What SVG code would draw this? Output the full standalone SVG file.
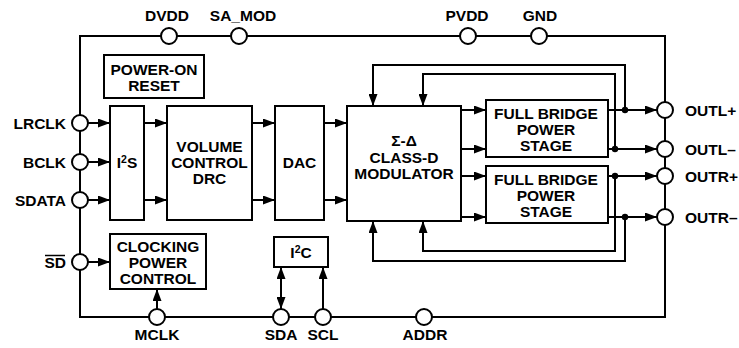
<svg xmlns="http://www.w3.org/2000/svg" width="739" height="348" viewBox="0 0 739 348">
<style>
.b{fill:#fff;stroke:#000;stroke-width:2}
.w{fill:none;stroke:#000;stroke-width:2}
.pin{fill:#fff;stroke:#000;stroke-width:2}
.t{font-family:"Liberation Sans",Arial,sans-serif;font-weight:bold;font-size:15.5px;fill:#000}
.c{text-anchor:middle}
.e{text-anchor:end}
.a{marker-end:url(#ah)}
.sup{font-size:10.5px}
</style>
<defs>
<marker id="ah" markerUnits="userSpaceOnUse" markerWidth="13" markerHeight="9" refX="12" refY="4.5" orient="auto-start-reverse"><path d="M0,0 L12,4.5 L0,9 z" fill="#000"/></marker>
</defs>
<rect width="739" height="348" fill="#fff"/>
<g id="frame"><rect x="80" y="36" width="585" height="281" class="w"/></g>
<g id="connectors">
<line x1="88" y1="123" x2="110" y2="123" class="w a"/>
<line x1="88" y1="162" x2="110" y2="162" class="w a"/>
<line x1="88" y1="200" x2="110" y2="200" class="w a"/>
<line x1="88" y1="262" x2="110" y2="262" class="w a"/>
<line x1="144" y1="123" x2="167" y2="123" class="w a"/>
<line x1="144" y1="200" x2="167" y2="200" class="w a"/>
<line x1="252" y1="123" x2="275" y2="123" class="w a"/>
<line x1="252" y1="200" x2="275" y2="200" class="w a"/>
<line x1="324" y1="123" x2="347" y2="123" class="w a"/>
<line x1="324" y1="200" x2="347" y2="200" class="w a"/>
<line x1="461" y1="110" x2="486" y2="110" class="w a"/>
<line x1="461" y1="149" x2="486" y2="149" class="w a"/>
<line x1="461" y1="176" x2="486" y2="176" class="w a"/>
<line x1="461" y1="217" x2="486" y2="217" class="w a"/>
<line x1="608" y1="110" x2="657" y2="110" class="w a"/>
<line x1="608" y1="149" x2="657" y2="149" class="w a"/>
<line x1="608" y1="176" x2="657" y2="176" class="w a"/>
<line x1="608" y1="217" x2="657" y2="217" class="w a"/>
<polyline points="625,110 625,65 373,65 373,106" class="w a"/>
<polyline points="615,149 615,74 423,74 423,106" class="w a"/>
<polyline points="615,176 615,251 423,251 423,221" class="w a"/>
<polyline points="625,217 625,261 373,261 373,221" class="w a"/>
<circle cx="625" cy="110" r="3.2"/>
<circle cx="615" cy="149" r="3.2"/>
<circle cx="615" cy="176" r="3.2"/>
<circle cx="625" cy="217" r="3.2"/>
<line x1="157" y1="309" x2="157" y2="289" class="w a"/>
<line x1="281" y1="309" x2="281" y2="267" class="w a" marker-start="url(#ah)"/>
<line x1="323" y1="309" x2="323" y2="267" class="w a"/>
</g>
<g id="pins">
<circle cx="169" cy="36" r="8" class="pin"/>
<circle cx="239" cy="36" r="8" class="pin"/>
<circle cx="468" cy="36" r="8" class="pin"/>
<circle cx="539" cy="36" r="8" class="pin"/>
<circle cx="80" cy="123" r="8" class="pin"/>
<circle cx="80" cy="162" r="8" class="pin"/>
<circle cx="80" cy="200" r="8" class="pin"/>
<circle cx="80" cy="262" r="8" class="pin"/>
<circle cx="665" cy="110" r="8" class="pin"/>
<circle cx="665" cy="149" r="8" class="pin"/>
<circle cx="665" cy="176" r="8" class="pin"/>
<circle cx="665" cy="217" r="8" class="pin"/>
<circle cx="157" cy="317" r="8" class="pin"/>
<circle cx="281" cy="317" r="8" class="pin"/>
<circle cx="323" cy="317" r="8" class="pin"/>
<circle cx="424" cy="317" r="8" class="pin"/>
<text x="167" y="21" class="t c">DVDD</text>
<text x="243" y="21" class="t c">SA_MOD</text>
<text x="467" y="21" class="t c">PVDD</text>
<text x="540" y="21" class="t c">GND</text>
<text x="66" y="128.5" class="t e">LRCLK</text>
<text x="66" y="167.5" class="t e">BCLK</text>
<text x="66" y="205.5" class="t e">SDATA</text>
<text x="66" y="267.5" class="t e">SD</text>
<line x1="45" y1="255.5" x2="65" y2="255.5" stroke="#000" stroke-width="1.5"/>
<text x="685" y="115.5" class="t">OUTL+</text>
<text x="685" y="154.5" class="t">OUTL–</text>
<text x="685" y="181.5" class="t">OUTR+</text>
<text x="685" y="222.5" class="t">OUTR–</text>
<text x="157" y="340" class="t c">MCLK</text>
<text x="281" y="340" class="t c">SDA</text>
<text x="323" y="340" class="t c">SCL</text>
<text x="425" y="340" class="t c">ADDR</text>
</g>
<g id="por"><rect x="104" y="55" width="100" height="43" class="b"/>
<text x="154" y="74.5" class="t c">POWER-ON</text><text x="154" y="90.5" class="t c">RESET</text></g>
<g id="i2s"><rect x="110" y="106" width="34" height="114" class="b"/>
<text x="127" y="167.5" class="t c">I<tspan class="sup" dy="-5">2</tspan><tspan dy="5">S</tspan></text></g>
<g id="volume"><rect x="167" y="106" width="85" height="114" class="b"/>
<text x="209.5" y="151.5" class="t c">VOLUME</text><text x="209.5" y="167.5" class="t c">CONTROL</text><text x="209.5" y="183.5" class="t c">DRC</text></g>
<g id="dac"><rect x="275" y="106" width="49" height="114" class="b"/>
<text x="299.5" y="167.5" class="t c">DAC</text></g>
<g id="modulator"><rect x="347" y="106" width="114" height="115" class="b"/>
<text x="404" y="146" class="t c">Σ-Δ</text><text x="404" y="162.5" class="t c">CLASS-D</text><text x="404" y="178.5" class="t c">MODULATOR</text></g>
<g id="fb1"><rect x="486" y="100" width="122" height="57" class="b"/>
<text x="546" y="119" class="t c">FULL BRIDGE</text><text x="546" y="135" class="t c">POWER</text><text x="546" y="151" class="t c">STAGE</text></g>
<g id="fb2"><rect x="486" y="166" width="122" height="57" class="b"/>
<text x="546" y="185" class="t c">FULL BRIDGE</text><text x="546" y="201" class="t c">POWER</text><text x="546" y="217" class="t c">STAGE</text></g>
<g id="clocking"><rect x="110" y="234" width="96" height="55" class="b"/>
<text x="158" y="252" class="t c">CLOCKING</text><text x="158" y="268" class="t c">POWER</text><text x="158" y="284" class="t c">CONTROL</text></g>
<g id="i2c"><rect x="274" y="237" width="54" height="30" class="b"/>
<text x="301" y="257.5" class="t c">I<tspan class="sup" dy="-5">2</tspan><tspan dy="5">C</tspan></text></g>
</svg>
